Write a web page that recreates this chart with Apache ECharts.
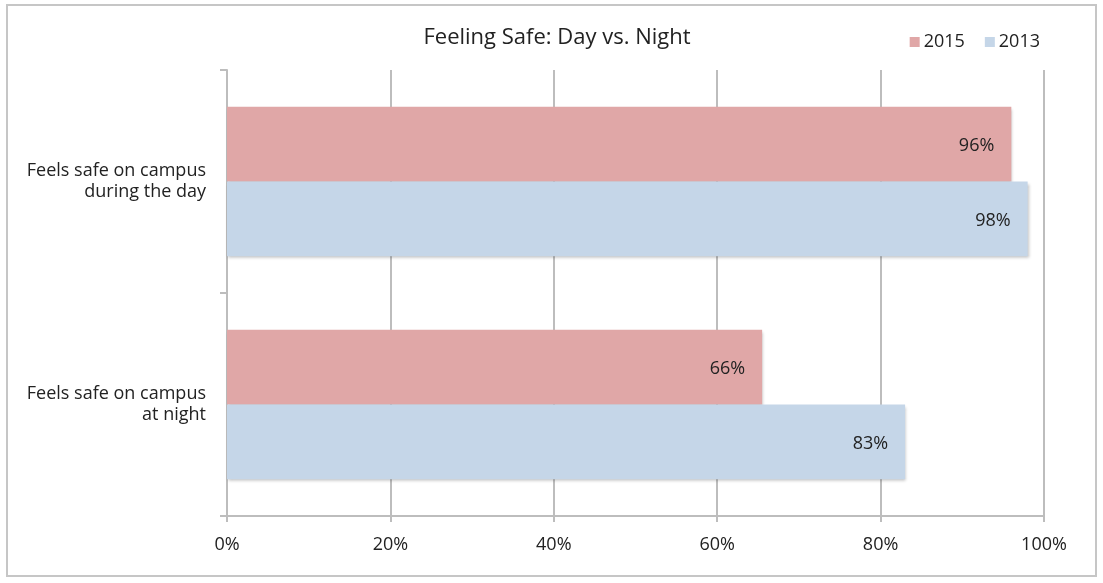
<!DOCTYPE html>
<html>
<head>
<meta charset="utf-8">
<script src="https://cdn.jsdelivr.net/npm/echarts@6/dist/echarts.min.js"></script>
<style>
  html, body { margin: 0; padding: 0; background: #fff; }
  #chart { width: 1103px; height: 583px; }
</style>
</head>
<body>
<div id="chart"></div>
<script>
  // categories top to bottom
  var categories = ['Feels safe on campus\nduring the day', 'Feels safe on campus\nat night']
  var values2015 = [96, 65.5]
  var values2013 = [98, 83]
  var xTicks = [0, 20, 40, 60, 80, 100]

  var fontName = 'Open Sans'
  var barShadow = {
    shadowColor: 'rgba(0,0,0,0.25)',
    shadowBlur: 3,
    shadowOffsetX: 1,
    shadowOffsetY: 2
  }
  var valueLabel = {
    show: true,
    position: 'insideRight',
    distance: 17,
    offset: [0, 2],
    formatter: function (p) { return Math.round(p.value) + '%' },
    color: '#222',
    fontFamily: fontName,
    fontSize: 18
  }

  var myChart = echarts.init(document.getElementById('chart'))
  var option = {
    animation: false,
    graphic: [{
      type: 'rect',
      shape: { x: 7, y: 5, width: 1089, height: 571 },
      style: { fill: 'none', stroke: '#c6c6c6', lineWidth: 2 },
      z: -1
    }],
    title: {
      text: 'Feeling Safe: Day vs. Night',
      left: 552,
      textAlign: 'center',
      top: 22,
      textStyle: { fontFamily: fontName, fontSize: 22, fontWeight: 'normal', color: '#222' }
    },
    legend: {
      data: ['2015', '2013'],
      right: 58,
      top: 28,
      itemWidth: 10,
      itemHeight: 10,
      itemGap: 20,
      icon: 'rect',
      textStyle: { fontFamily: fontName, fontSize: 18, color: '#222', padding: [0, 0, 0, -1] }
    },
    grid: { left: 227, right: 59, top: 70, bottom: 67 },
    xAxis: {
      type: 'value',
      min: 0,
      max: 100,
      interval: 20,
      axisLine: { show: true, lineStyle: { color: '#bdbdbd', width: 2 } },
      axisTick: { show: true, length: 6, lineStyle: { color: '#bdbdbd', width: 2 } },
      splitLine: { show: true, lineStyle: { color: '#bdbdbd', width: 2 } },
      axisLabel: {
        margin: 20,
        fontFamily: fontName,
        fontSize: 18,
        color: '#222',
        formatter: function (v) { return xTicks.indexOf(v) >= 0 ? v + '%' : '' }
      }
    },
    yAxis: {
      type: 'category',
      inverse: true,
      data: categories,
      axisLine: { show: true, lineStyle: { color: '#bdbdbd', width: 2 } },
      axisTick: { show: true, length: 7, lineStyle: { color: '#bdbdbd', width: 2 } },
      axisLabel: {
        margin: 21,
        fontFamily: fontName,
        fontSize: 18,
        lineHeight: 21,
        padding: [3, 0, 0, 0],
        color: '#222',
        align: 'right'
      }
    },
    series: [
      {
        name: '2015',
        type: 'bar',
        data: values2015,
        barGap: '0%',
        barCategoryGap: '33%',
        itemStyle: Object.assign({ color: '#e0a7a7' }, barShadow),
        label: valueLabel
      },
      {
        name: '2013',
        type: 'bar',
        data: values2013,
        barGap: '0%',
        barCategoryGap: '33%',
        itemStyle: Object.assign({ color: '#c5d6e8' }, barShadow),
        label: valueLabel
      }
    ]
  }
  myChart.setOption(option)
</script>
</body>
</html>
